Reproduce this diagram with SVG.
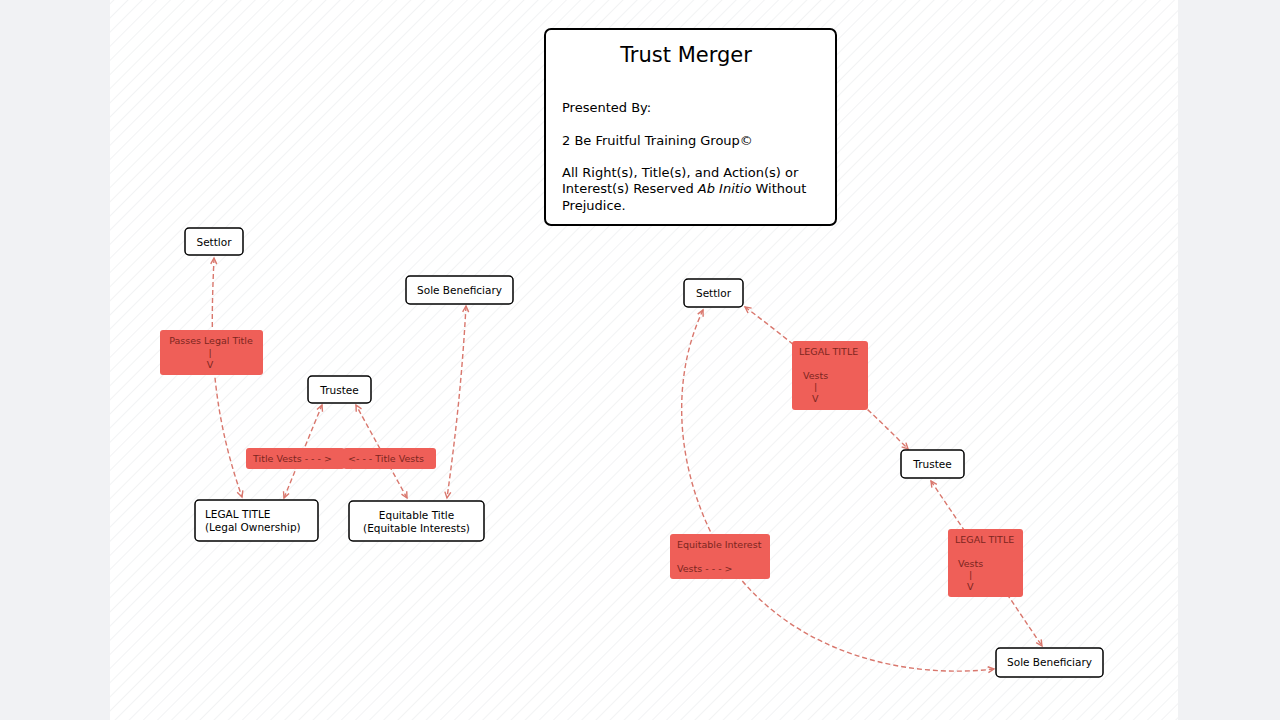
<svg xmlns="http://www.w3.org/2000/svg" width="1280" height="720" viewBox="0 0 1280 720">
<defs>
<pattern id="stripes" patternUnits="userSpaceOnUse" width="10" height="10" patternTransform="rotate(45)">
<line x1="0" y1="0" x2="0" y2="10" stroke="#eaebed" stroke-width="1.2"/>
</pattern>
<marker id="arr" markerUnits="userSpaceOnUse" markerWidth="10" markerHeight="10" refX="7" refY="4" orient="auto-start-reverse" viewBox="0 0 10 8">
<path d="M1,1 L7,4 L1,7" fill="none" stroke="#d9776d" stroke-width="1.4"/>
</marker>
</defs>
<style>
.node rect{fill:#ffffff;stroke:#000;stroke-width:1.5}
.node text{font-family:"DejaVu Sans",Verdana,sans-serif;font-size:10.5px;fill:#000}
.lbl rect{fill:#ef5f58;stroke:none}
.lbl text{font-family:"DejaVu Sans",Verdana,sans-serif;font-size:9.5px;fill:#7c2620}
.edge{fill:none;stroke:#d9776d;stroke-width:1.4;stroke-dasharray:5 3;marker-start:url(#arr);marker-end:url(#arr)}
.ttl text{font-family:"DejaVu Sans",Verdana,sans-serif;fill:#000}
</style>
<rect x="0" y="0" width="1280" height="720" fill="#f1f2f4"/>
<rect x="110" y="0" width="1068" height="720" fill="#ffffff"/>
<rect x="110" y="0" width="1068" height="720" fill="url(#stripes)"/>

<g id="title-box" class="ttl">
<rect x="545" y="29" width="291" height="196" rx="6" fill="#fff" stroke="#000" stroke-width="2"/>
<text x="686" y="62" text-anchor="middle" font-size="21">Trust Merger</text>
<text x="562" y="112" font-size="13">Presented By:</text>
<text x="562" y="145" font-size="13">2 Be Fruitful Training Group©</text>
<text x="562" y="177" font-size="13">All Right(s), Title(s), and Action(s) or</text>
<text x="562" y="193" font-size="13">Interest(s) Reserved <tspan font-style="italic">Ab Initio</tspan> Without</text>
<text x="562" y="210" font-size="13">Prejudice.</text>
</g>

<g id="connectors">
<path class="edge" d="M214 258 C211 330 208 400 242 497"/>
<path class="edge" d="M284 498 L322 405"/>
<path class="edge" d="M407 498 L356 405"/>
<path class="edge" d="M466 306 C462 380 455 440 447 498"/>
<path class="edge" d="M745 307 Q830 370 908 449"/>
<path class="edge" d="M931 481 L1042 646"/>
<path class="edge" d="M703 310 C670 380 675 470 720 550 C780 650 900 680 994 669"/>
</g>

<g id="settlor-left" class="node">
<rect x="185" y="228" width="58" height="27" rx="4"/>
<text x="214" y="246" text-anchor="middle">Settlor</text>
</g>
<g id="sole-beneficiary-left" class="node">
<rect x="406" y="276" width="107" height="28" rx="4"/>
<text x="459.5" y="294" text-anchor="middle">Sole Beneficiary</text>
</g>
<g id="trustee-left" class="node">
<rect x="308" y="376" width="63" height="27" rx="4"/>
<text x="339.5" y="394" text-anchor="middle">Trustee</text>
</g>
<g id="legal-title" class="node">
<rect x="195" y="500" width="123" height="41" rx="4"/>
<text x="205" y="518">LEGAL TITLE</text>
<text x="205" y="531">(Legal Ownership)</text>
</g>
<g id="equitable-title" class="node">
<rect x="349" y="501" width="135" height="40" rx="4"/>
<text x="416.5" y="519" text-anchor="middle">Equitable Title</text>
<text x="416.5" y="532" text-anchor="middle">(Equitable Interests)</text>
</g>

<g id="lbl-passes" class="lbl">
<rect x="160" y="330" width="103" height="45" rx="3"/>
<text x="211" y="344" text-anchor="middle">Passes Legal Title</text>
<text x="210" y="356" text-anchor="middle">|</text>
<text x="210" y="368" text-anchor="middle">V</text>
</g>
<g id="lbl-title-vests-1" class="lbl">
<rect x="246" y="448" width="99" height="21" rx="3"/>
<text x="253" y="462">Title Vests - - - &gt;</text>
</g>
<g id="lbl-title-vests-2" class="lbl">
<rect x="343" y="448" width="93" height="21" rx="3"/>
<text x="348" y="462">&lt;- - - Title Vests</text>
</g>

<g id="settlor-right" class="node">
<rect x="684" y="279" width="59" height="28" rx="4"/>
<text x="713.5" y="297" text-anchor="middle">Settlor</text>
</g>
<g id="trustee-right" class="node">
<rect x="901" y="450" width="63" height="28" rx="4"/>
<text x="932.5" y="468" text-anchor="middle">Trustee</text>
</g>
<g id="sole-beneficiary-right" class="node">
<rect x="996" y="648" width="107" height="29" rx="4"/>
<text x="1049.5" y="666" text-anchor="middle">Sole Beneficiary</text>
</g>

<g id="lbl-legal-vests-1" class="lbl">
<rect x="792" y="341" width="76" height="69" rx="3"/>
<text x="799" y="355">LEGAL TITLE</text>
<text x="803" y="379">Vests</text>
<text x="814" y="390">|</text>
<text x="812" y="402">V</text>
</g>
<g id="lbl-legal-vests-2" class="lbl">
<rect x="948" y="529" width="75" height="68" rx="3"/>
<text x="955" y="543">LEGAL TITLE</text>
<text x="958" y="567">Vests</text>
<text x="969" y="578">|</text>
<text x="967" y="590">V</text>
</g>
<g id="lbl-equitable-vests" class="lbl">
<rect x="670" y="534" width="100" height="45" rx="3"/>
<text x="677" y="548">Equitable Interest</text>
<text x="677" y="572">Vests - - - &gt;</text>
</g>
</svg>
